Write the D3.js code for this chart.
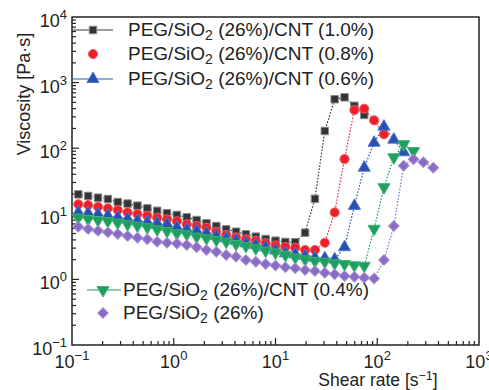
<!DOCTYPE html>
<html><head><meta charset="utf-8">
<script src="https://cdn.jsdelivr.net/npm/d3@7"></script>
<style>
html,body{margin:0;padding:0;background:#fff;}
svg{display:block;font-family:"Liberation Sans",Arial,sans-serif;}
</style></head>
<body><svg id="c" width="489" height="390"></svg>
<script>
// Shear rate grid [1/s]
const shearRate = [0.1153,0.1441,0.1801,0.2252,0.2815,0.3518,0.4398,0.5498,0.6872,0.859,
  1.0737,1.3422,1.6777,2.0972,2.6214,3.2768,4.096,5.12,6.4,8.0,
  10,12.5,15.63,19.53,24.41,30.52,38.15,47.68,59.6,74.5,
  93.13,116.4,145.5,181.9,227.4,284.2,355.3];

const cnt10 = [19.8,18.7,17.6,16.8,15.1,14.3,13.3,12.1,11.1,10.2,
  9.6,8.85,8.04,7.16,6.51,5.80,5.33,4.87,4.48,4.13,
  3.89,3.72,3.68,5.16,16.9,183,558,597,443,321];
const cnt08 = [13.96,13.6,12.8,12.1,11.4,10.5,9.9,9.35,8.73,8.25,
  7.69,6.92,6.52,6.14,5.33,4.75,4.38,4.09,3.89,3.55,
  3.29,3.12,3.04,2.81,2.81,3.62,10.5,68.4,382,399,266,163];
const cnt06 = [10.5,10.2,9.83,9.35,8.85,8.34,7.86,7.42,7.16,6.92,
  6.18,5.80,5.53,5.04,4.59,4.24,3.89,3.55,3.34,3.08,
  2.76,2.50,2.41,2.28,2.14,2.10,2.02,3.10,13.2,50.5,121,213,135,86.7];
const cnt04 = [8.73,8.34,8.04,7.76,7.31,6.92,6.59,6.23,5.80,5.47,
  5.04,4.87,4.48,4.24,3.99,3.76,3.47,3.23,2.98,2.74,
  2.57,2.36,2.16,2.02,1.91,1.86,1.76,1.71,1.64,1.61,
  5.90,25.4,72.6,115,90.6];
const cnt00 = [6.36,5.86,5.53,5.22,4.92,4.59,4.33,4.09,3.76,3.62,
  3.52,3.34,3.08,2.81,2.64,2.36,2.22,1.98,1.86,1.72,
  1.63,1.53,1.48,1.39,1.34,1.26,1.20,1.13,1.10,1.06,
  1.03,1.98,6.52,54.1,67.9,61.0,50.5];

const seriesNames = ["(1.0%)","(0.8%)","(0.6%)","(0.4%)",""];
const xTickExps = [-1,0,1,2,3];
const yTickExps = [-1,0,1,2,3,4];

const svg = d3.select("#c");
const L=72,R=479,T=17,B=345;
const x = d3.scaleLog().domain([0.1,1000]).range([L,R]);
const y = d3.scaleLog().domain([0.1,10000]).range([B,T]);

const series = [
  {vals:cnt10, fill:"#333333", stroke:"#8a8a8a", line:"#3a3a3a", sym:"square", size:56},
  {vals:cnt08, fill:"#ee1f2b", stroke:"#f06060", line:"#e8303a", sym:"circle", size:66},
  {vals:cnt06, fill:"#2a4fb0", stroke:"#4f78cc", line:"#3056b5", sym:"up", size:64},
  {vals:cnt04, fill:"#1f9e5e", stroke:"#3bb478", line:"#1f9e5e", sym:"down", size:64},
  {vals:cnt00, fill:"#8b6cc4", stroke:"#a58ad4", line:"#8b6cc4", sym:"diamond", size:56}
];

function symPath(sym,size){
  if(sym==="square") return d3.symbol(d3.symbolSquare,size)();
  if(sym==="circle") return d3.symbol(d3.symbolCircle,size)();
  if(sym==="up" || sym==="down") return d3.symbol(d3.symbolTriangle,size)();
  if(sym==="diamond") return d3.symbol(d3.symbolSquare,size)();
}
function symTransform(sym,px,py){
  let t=`translate(${px},${py})`;
  if(sym==="down") t+=" rotate(180)";
  if(sym==="diamond") t+=" rotate(45)";
  return t;
}

// frame
svg.append("rect").attr("x",L).attr("y",T).attr("width",R-L).attr("height",B-T)
  .attr("fill","none").attr("stroke","#222").attr("stroke-width",1.5);

// ticks
const tg = svg.append("g").attr("stroke","#222").attr("stroke-width",1.2);
for(let e=-1;e<3;e++){
  for(let m=1;m<10;m++){
    if(m===1 && e===-1) continue;
    const px=x(m*Math.pow(10,e)), len=m===1?7:4;
    tg.append("line").attr("x1",px).attr("x2",px).attr("y1",B).attr("y2",B-len);
  }
}
for(let e=-1;e<4;e++){
  for(let m=1;m<10;m++){
    if(m===1 && e===-1) continue;
    const py=y(m*Math.pow(10,e)), len=m===1?7:4;
    tg.append("line").attr("x1",L).attr("x2",L+len).attr("y1",py).attr("y2",py);
  }
}

// tick labels
const fs=18;
xTickExps.forEach(e=>{
  const t=svg.append("text").attr("x",x(Math.pow(10,e))).attr("y",368)
    .attr("text-anchor","middle").attr("font-size",fs).attr("fill","#222");
  t.append("tspan").text("10");
  t.append("tspan").attr("dy",-8).attr("font-size",13).text(e<0?"\u2212"+(-e):String(e));
});
yTickExps.forEach(e=>{
  const t=svg.append("text").attr("x",67).attr("y",y(Math.pow(10,e))+10)
    .attr("text-anchor","end").attr("font-size",fs).attr("fill","#222");
  t.append("tspan").text("10");
  t.append("tspan").attr("dy",-8).attr("font-size",13).text(e<0?"\u2212"+(-e):String(e));
});

// axis titles
svg.append("text").attr("transform","translate(30,94) rotate(-90)")
  .attr("text-anchor","middle").attr("font-size",18).attr("fill","#222")
  .text("Viscosity [Pa\u00b7s]");
const xt = svg.append("text").attr("x",378).attr("y",386).attr("text-anchor","middle")
  .attr("font-size",17.5).attr("fill","#222");
xt.append("tspan").text("Shear rate [s");
xt.append("tspan").attr("dy",-6).attr("font-size",12.5).text("\u22121");
xt.append("tspan").attr("dy",6).text("]");

// data
const line = d3.line().x(d=>x(d[0])).y(d=>y(d[1]));
series.forEach(s=>{
  const pts = s.vals.map((v,i)=>[shearRate[i],v]);
  svg.append("path").attr("d",line(pts)).attr("fill","none")
    .attr("stroke",s.line).attr("stroke-width",1.2).attr("stroke-dasharray","1.6,1.6");
});
series.forEach(s=>{
  const pts = s.vals.map((v,i)=>[shearRate[i],v]);
  svg.append("g").selectAll("path").data(pts).join("path")
    .attr("d",symPath(s.sym,s.size))
    .attr("transform",d=>symTransform(s.sym,x(d[0]),y(d[1])))
    .attr("fill",s.fill).attr("stroke",s.stroke).attr("stroke-width",1);
});

// legends
function legendRow(s,lx,mx,tx,ty,name,drawLine){
  if(drawLine) svg.append("line").attr("x1",lx[0]).attr("x2",lx[1]).attr("y1",ty).attr("y2",ty)
    .attr("stroke",s.line).attr("stroke-width",1.2);
  svg.append("path").attr("d",symPath(s.sym,s.size)).attr("transform",symTransform(s.sym,mx,ty))
    .attr("fill",s.fill).attr("stroke",s.stroke).attr("stroke-width",1);
  const t=svg.append("text").attr("x",tx).attr("y",ty+6).attr("font-size",19).attr("fill","#222");
  t.append("tspan").text("PEG/SiO");
  t.append("tspan").attr("dy",4).attr("font-size",14).text("2");
  t.append("tspan").attr("dy",-4).text(" (26%)"+(name?"/CNT "+name:""));
}
legendRow(series[0],[73,113],93,128,30,seriesNames[0],true);
legendRow(series[1],[73,113],93,128,54,seriesNames[1],false);
legendRow(series[2],[73,113],93,128,79,seriesNames[2],true);
legendRow(series[3],[87,121],103,123,290,seriesNames[3],true);
legendRow(series[4],[87,121],103,123,313,seriesNames[4],false);
</script></body></html>
